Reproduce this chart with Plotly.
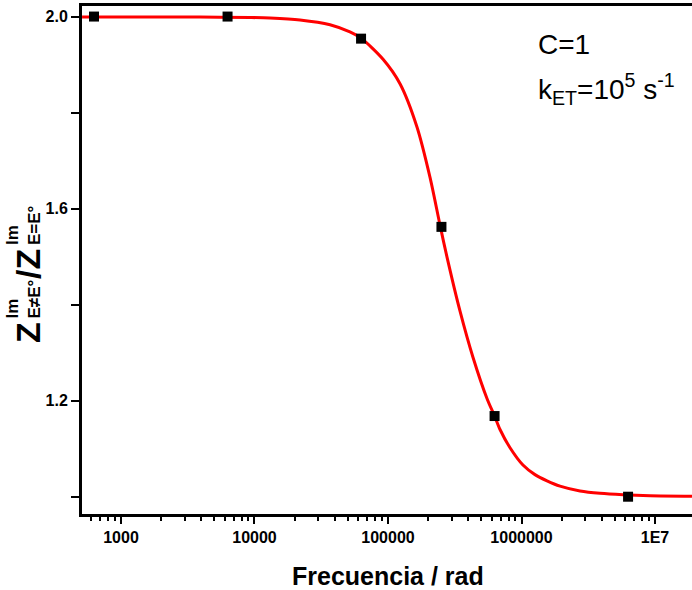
import plotly.graph_objects as go

# measured points (squares)
freq_pts = [628, 6283, 62832, 251327, 628319, 6283185]
ratio_pts = [2.0, 2.0, 1.954, 1.562, 1.168, 1.0]

# fitted curve
curve_freq = [511, 3908, 9247, 13060, 21920, 36800, 51880, 62810, 91830, 123000, 164800,
              206400, 245500, 276700, 345900, 433500, 552100, 628319, 690200, 820400,
              1025000, 1261000, 1552000, 1942000, 2742000, 3871000, 5754000, 9179000, 18920000]
curve_ratio = [1.999, 1.999, 1.998, 1.997, 1.993, 1.983, 1.968, 1.955, 1.911, 1.860, 1.770,
               1.665, 1.565, 1.499, 1.387, 1.290, 1.204, 1.168, 1.140, 1.102,
               1.066, 1.046, 1.033, 1.022, 1.012, 1.007, 1.004, 1.002, 1.001]

xtick_vals = [1000, 10000, 100000, 1000000, 10000000]
xtick_text = ["1000", "10000", "100000", "1000000", "1E7"]
ytick_vals = [1.0, 1.2, 1.4, 1.6, 1.8, 2.0]
ytick_text = ["", "1.2", "", "1.6", "", "2.0"]

minor_x = []
for dec in [100, 1000, 10000, 100000, 1000000, 10000000]:
    for m in range(2, 10):
        minor_x.append(dec * m)

FONT = "Liberation Sans, Arial, sans-serif"

fig = go.Figure()
fig.add_trace(go.Scatter(x=curve_freq, y=curve_ratio, mode="lines",
                         line=dict(color="#ff0000", width=3, shape="spline", smoothing=0.8),
                         hoverinfo="skip", showlegend=False))
fig.add_trace(go.Scatter(x=freq_pts, y=ratio_pts, mode="markers",
                         marker=dict(symbol="square", size=10, color="black"),
                         showlegend=False))

W, H = 692, 590
L, R, T, B = 82, 0, 6, 76
pw, ph = W - L - R, H - T - B


def px(x):
    return (x - L) / pw


def py(y):
    return (H - B - y) / ph


ann = []
# y-axis title, built from pieces
ann.append(dict(text="<b>Z</b>", x=px(28), y=py(333), xref="paper", yref="paper",
                xanchor="center", yanchor="middle", textangle=-90, showarrow=False,
                font=dict(family=FONT, size=34, color="black")))
ann.append(dict(text="<b>Im</b><br><b>E≠E°</b>", x=px(23), y=py(321), xref="paper", yref="paper",
                xanchor="center", yanchor="bottom", textangle=-90, showarrow=False, align="left",
                font=dict(family=FONT, size=17, color="black")))
ann.append(dict(text="<b>/Z</b>", x=px(28), y=py(264), xref="paper", yref="paper",
                xanchor="center", yanchor="middle", textangle=-90, showarrow=False,
                font=dict(family=FONT, size=34, color="black")))
ann.append(dict(text="<b>Im</b><br><b>E=E°</b>", x=px(23), y=py(247), xref="paper", yref="paper",
                xanchor="center", yanchor="bottom", textangle=-90, showarrow=False, align="left",
                font=dict(family=FONT, size=17, color="black")))
# x-axis title
ann.append(dict(text="<b>Frecuencia / rad</b>", x=px(388), y=py(576), xref="paper", yref="paper",
                xanchor="center", yanchor="middle", showarrow=False,
                font=dict(family=FONT, size=25, color="black")))
# parameter text
ann.append(dict(text="C=1", x=px(536), y=py(45), xref="paper", yref="paper",
                xanchor="left", yanchor="middle", showarrow=False,
                font=dict(family=FONT, size=28, color="black")))
ann.append(dict(text="k<sub>ET</sub>=10<sup>5</sup> s<sup>-1</sup>", x=px(536), y=py(89),
                xref="paper", yref="paper", xanchor="left", yanchor="middle", showarrow=False,
                font=dict(family=FONT, size=28, color="black")))

fig.update_layout(
    width=W, height=H,
    margin=dict(l=L, r=R, t=T, b=B),
    paper_bgcolor="white", plot_bgcolor="white",
    font=dict(family=FONT, color="black"),
    annotations=ann,
    xaxis=dict(type="log", range=[2.708, 7.277],
               tickmode="array", tickvals=xtick_vals, ticktext=xtick_text,
               ticks="outside", ticklen=7, tickwidth=2, tickcolor="black",
               tickfont=dict(family=FONT, size=16, color="black", weight="bold"),
               showline=True, linewidth=3, linecolor="black", mirror=True,
               showgrid=False, zeroline=False,
               minor=dict(tickmode="array", tickvals=minor_x, ticks="outside",
                          ticklen=4, tickwidth=2, tickcolor="black", showgrid=False)),
    yaxis=dict(range=[0.964, 2.022],
               tickmode="array", tickvals=ytick_vals, ticktext=ytick_text,
               ticks="outside", ticklen=8, tickwidth=2, tickcolor="black",
               tickfont=dict(family=FONT, size=16, color="black", weight="bold"),
               showline=True, linewidth=3, linecolor="black",
               showgrid=False, zeroline=False),
)

fig.write_html("out.html", config={"displayModeBar": False},
               post_script="document.body.style.margin='0';")
